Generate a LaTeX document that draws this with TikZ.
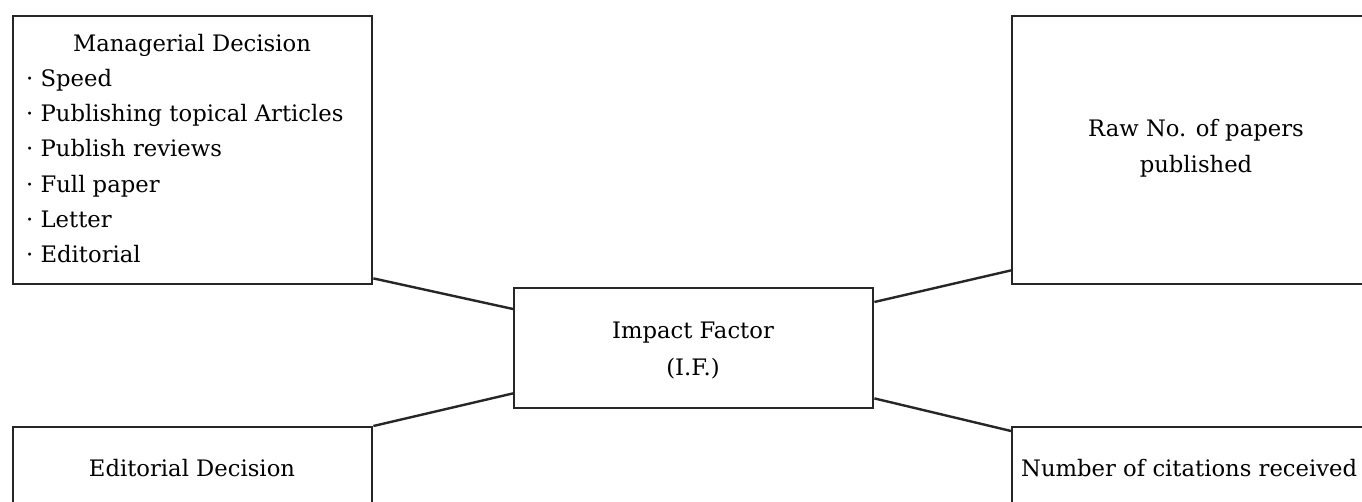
\documentclass[tikz,border=0pt]{standalone}
\usepackage{fontspec}
\setmainfont{DejaVu Serif}
\begin{document}
\begin{tikzpicture}[x=1pt,y=-1pt,
  frame/.style={draw=black!85, line width=2.4pt, inner sep=0pt, anchor=north west},
  bigbox/.style={frame, minimum width=359pt, minimum height=268pt},
  label/.style={inner sep=0pt, font=\fontsize{22.7}{35}\selectfont},
  link/.style={draw=black!85, line width=2.4pt}]
\clip (0,0) rectangle (1362,502);
\fill[white] (0,0) rectangle (1362,502);

% boxes
\node[bigbox] (mgr) at (12,15) {};
\node[bigbox] (raw) at (1011,15) {};
\node[frame, minimum width=359pt, minimum height=120pt] (if) at (513,287) {};
\node[bigbox] (edt) at (12,426) {};
\node[bigbox] (cit) at (1011,426) {};

% texts
\node[label, anchor=base] at (192,52) {Managerial Decision};
\node[label, anchor=base west] at (26,87)  {· Speed};
\node[label, anchor=base west] at (26,122) {· Publishing topical Articles};
\node[label, anchor=base west] at (26,157) {· Publish reviews};
\node[label, anchor=base west] at (26,193) {· Full paper};
\node[label, anchor=base west] at (26,228) {· Letter};
\node[label, anchor=base west] at (26,263) {· Editorial};

\node[label, anchor=base] at (1196,137) {Raw No. of papers};
\node[label, anchor=base] at (1196,173) {published};

\node[label, anchor=base] at (693,339) {Impact Factor};
\node[label, anchor=base] at (693,375) {(I.F.)};

\node[label, anchor=base] at (192,476) {Editorial Decision};
\node[label, anchor=base west] at (1021,476) {Number of citations received};

% connectors
\draw[link] ([yshift=7pt]mgr.south east) -- ([yshift=-22pt]if.north west);
\draw[link] ([yshift=-15pt]if.north east) -- ([yshift=15pt]raw.south west);
\draw[link] ([yshift=16pt]if.south west) -- (edt.north east);
\draw[link] ([yshift=11pt]if.south east) -- ([yshift=-5pt]cit.north west);
\end{tikzpicture}
\end{document}
